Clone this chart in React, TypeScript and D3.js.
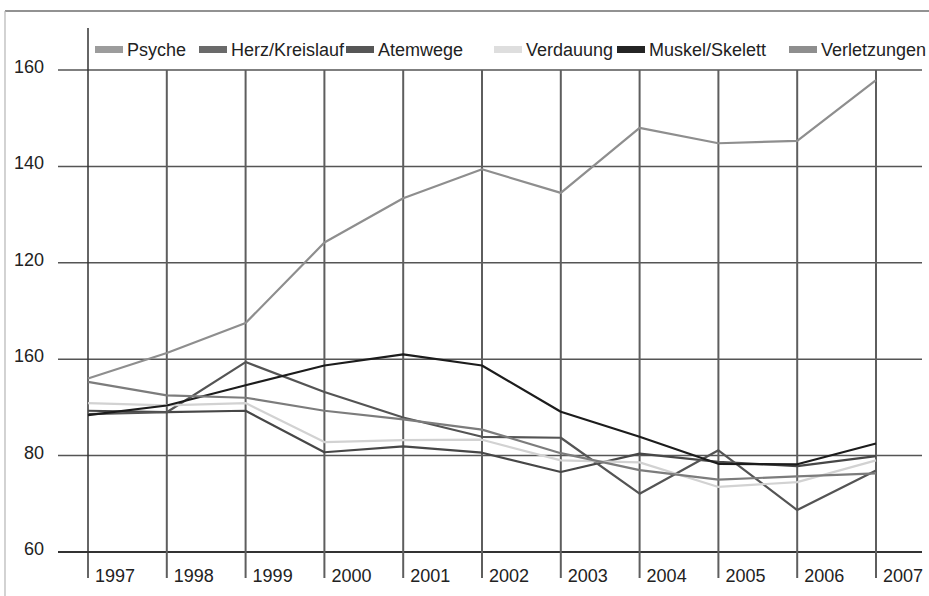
import React from "react";
import * as d3 from "d3";

const years = [1997, 1998, 1999, 2000, 2001, 2002, 2003, 2004, 2005, 2006, 2007];
const yTicks = [60, 80, 100, 120, 140, 160];
const yTickLabels = ["60", "80", "160", "120", "140", "160"];

const psyche = [96.0, 101.3, 107.5, 124.2, 133.4, 139.4, 134.5, 148.0, 144.8, 145.3, 157.9];
const herzKreislauf = [89.3, 89.0, 89.3, 80.7, 81.9, 80.6, 76.6, 80.4, 78.7, 77.8, 79.9];
const atemwege = [88.6, 89.0, 99.4, 93.2, 87.9, 83.9, 83.7, 72.1, 81.1, 68.7, 76.9];
const verdauung = [90.9, 90.4, 90.9, 82.8, 83.2, 83.3, 79.0, 78.6, 73.5, 74.5, 79.0];
const muskelSkelett = [88.4, 90.4, 94.6, 98.7, 101.0, 98.7, 89.1, 83.9, 78.3, 78.2, 82.5];
const verletzungen = [95.3, 92.5, 92.0, 89.3, 87.5, 85.4, 80.5, 77.0, 75.0, 75.7, 76.3];

const seriesNames = ["Psyche", "Herz/Kreislauf", "Atemwege", "Verdauung", "Muskel/Skelett", "Verletzungen"];
const seriesValues = [psyche, herzKreislauf, atemwege, verdauung, muskelSkelett, verletzungen];
const lineColors = ["#8e8e8e", "#474747", "#545454", "#d2d2d2", "#1c1c1c", "#7c7c7c"];
const swatchColors = ["#9c9c9c", "#6a6a6a", "#565656", "#dedede", "#242424", "#8e8e8e"];
const legendX = [95, 199, 346, 494, 617, 789];

const FONT = "'Liberation Sans', Arial, sans-serif";

export default function App() {
  const x = d3.scaleLinear().domain([1997, 2007]).range([88, 876]);
  const y = d3.scaleLinear().domain([60, 160]).range([552, 70]);
  const line = d3
    .line<number>()
    .x((_, i) => x(years[i]))
    .y((d) => y(d));

  return (
    <svg
      width={929}
      height={596}
      style={{ position: "absolute", left: 0, top: 0, background: "#fff" }}
    >
      {/* page frame */}
      <line x1={5} x2={929} y1={11} y2={11} stroke="#6e6e6e" strokeWidth={1.6} />
      <line x1={5} x2={5} y1={11} y2={596} stroke="#b5b5b5" strokeWidth={1.2} />

      {/* horizontal gridlines */}
      {yTicks.map((t, i) => (
        <g key={"h" + t}>
          <line
            x1={58}
            x2={922}
            y1={y(t)}
            y2={y(t)}
            stroke={t === 60 ? "#333" : "#555"}
            strokeWidth={t === 60 ? 1.8 : 1.5}
          />
          <text
            x={44}
            y={y(t) + 3}
            textAnchor="end"
            fontFamily={FONT}
            fontSize={18}
            fill="#222"
          >
            {yTickLabels[i]}
          </text>
        </g>
      ))}

      {/* vertical gridlines */}
      {years.map((yr, i) => (
        <g key={"v" + yr}>
          <line
            x1={x(yr)}
            x2={x(yr)}
            y1={i === 0 ? 28 : y(160)}
            y2={578}
            stroke={i === 0 ? "#333" : "#5e5e5e"}
            strokeWidth={i === 0 ? 1.5 : 2}
          />
          <text
            x={x(yr) + 7}
            y={582}
            fontFamily={FONT}
            fontSize={18}
            fill="#222"
          >
            {yr}
          </text>
        </g>
      ))}

      {/* series */}
      {seriesValues.map((vals, i) => (
        <path
          key={seriesNames[i]}
          d={line(vals) || ""}
          fill="none"
          stroke={lineColors[i]}
          strokeWidth={2.2}
          strokeLinejoin="round"
        />
      ))}

      {/* legend */}
      {seriesNames.map((name, i) => (
        <g key={"l" + name}>
          <rect x={legendX[i]} y={46} width={28} height={7} fill={swatchColors[i]} />
          <text
            x={legendX[i] + 32}
            y={56}
            fontFamily={FONT}
            fontSize={18}
            fill="#222"
          >
            {name}
          </text>
        </g>
      ))}
    </svg>
  );
}
